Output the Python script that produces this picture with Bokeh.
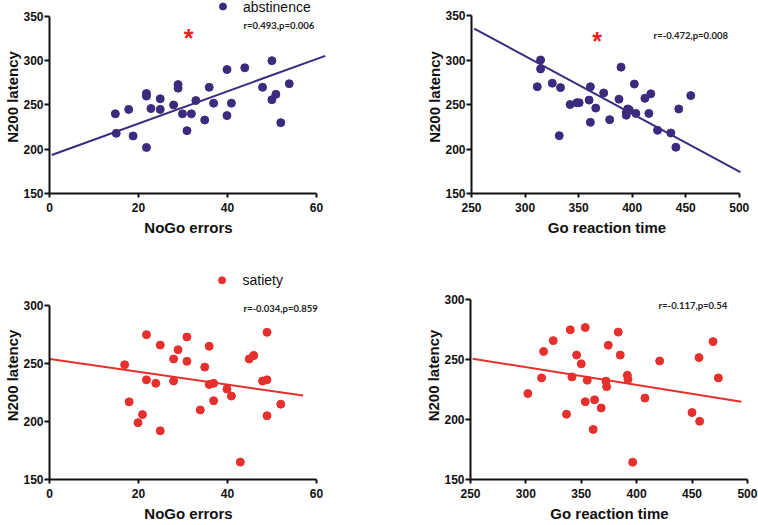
from bokeh.plotting import figure
from bokeh.layouts import column, row
from bokeh.models import FixedTicker, Range1d
from bokeh.core.properties import value
from bokeh.embed import file_html
from bokeh.resources import INLINE

# ---------------- data ----------------
# abstinence: NoGo errors vs N200 latency
abst_nogo_errors = [14.8, 15, 17.8, 18.8, 21.8, 21.8, 21.8, 22.8, 24.9, 24.9, 27.9, 28.9, 28.9,
                    29.9, 30.9, 31.9, 32.9, 34.9, 35.9, 36.9, 39.9, 39.9, 40.9, 43.9, 47.9,
                    50.0, 50.0, 50.9, 52.0, 53.9]
abst_n200_a = [240, 218, 245, 215, 263, 260, 202, 246, 257, 245, 250, 273, 269,
               240, 221, 240, 255, 233, 270, 252, 290, 238, 252, 292, 270,
               300, 256, 262, 230, 274]
abst_fit_a_x = [0.5, 62]
abst_fit_a_y = [193.5, 305.5]

# abstinence: Go reaction time vs N200 latency
abst_go_rt = [311.4, 314.5, 314.5, 325.4, 333.1, 331.9, 342.1, 348.3, 350.5, 359.8, 361.0,
              361.0, 366.0, 373.4, 379.0, 387.7, 389.6, 394.5, 395.8, 394.5, 397.3, 403.5,
              402.0, 411.9, 415.6, 417.4, 423.7, 436.1, 440.8, 443.5, 454.7]
abst_n200_b = [270, 300, 290, 274, 269, 215, 250, 252, 252, 255, 270,
               230, 246, 263, 233, 256, 292, 241, 245, 238, 244, 240,
               273, 257, 240, 262, 221, 218, 202, 245, 260]
abst_fit_b_x = [252.5, 501]
abst_fit_b_y = [335.4, 174]

# satiety: NoGo errors vs N200 latency
sat_nogo_errors = [16.9, 17.9, 19.9, 20.9, 21.8, 21.8, 23.9, 24.9, 24.9, 27.9, 27.9, 28.9,
                   30.9, 30.9, 33.9, 34.9, 35.9, 35.9, 36.9, 36.9, 39.9, 40.9, 42.9, 44.9,
                   45.9, 47.9, 48.9, 48.9, 48.9, 52.0]
sat_n200_a = [249, 217, 199, 206, 275, 236, 233, 266, 192, 254, 235, 262,
              273, 252, 210, 247, 265, 232, 233, 218, 228, 222, 165, 254,
              257, 235, 236, 277, 205, 215]
sat_fit_a_x = [0.1, 57]
sat_fit_a_y = [254, 222.5]

# satiety: Go reaction time vs N200 latency
sat_go_rt = [301.8, 314.2, 316.0, 324.7, 336.7, 340.1, 341.6, 345.8, 350.0, 353.6, 353.6,
             355.4, 360.8, 362.0, 368.0, 372.3, 372.9, 374.4, 383.4, 385.2, 391.6, 392.2,
             396.4, 407.5, 420.8, 450.0, 456.3, 456.9, 469.0, 473.8]
sat_n200_b = [221.5, 234.5, 256.5, 265.5, 204.3, 274.5, 235.3, 253.5, 246.2, 276.4, 214.7,
              232.6, 191.6, 216.3, 209.5, 231.8, 227.2, 261.7, 272.6, 253.5, 236.7, 233.2,
              164.4, 217.7, 248.6, 205.7, 251.4, 198.4, 264.7, 234.5]
sat_fit_b_x = [252, 494.6]
sat_fit_b_y = [250.5, 214.7]

nogo_ticks = [0, 20, 40, 60]
go_ticks = [250, 300, 350, 400, 450, 500]
lat_ticks_top = [150, 200, 250, 300, 350]
lat_ticks_bottom = [150, 200, 250, 300]

stats = ["r=0.493,p=0.006", "r=-0.472,p=0.008", "r=-0.034,p=0.859", "r=-0.117,p=0.54"]
groups = ["abstinence", "satiety"]

PURPLE = "#3c2a7f"
RED = "#e5302e"
STAR = "#f0201c"
AX_FONT = "Liberation Sans"


def make(width, height, xr, yr, xb, yb, xticks, yticks, borders, xlabel):
    left, right, top, bottom = borders
    p = figure(width=width, height=height,
               x_range=Range1d(*xr), y_range=Range1d(*yr),
               output_backend="svg", toolbar_location=None,
               min_border_left=left, min_border_right=right,
               min_border_top=top, min_border_bottom=bottom)
    p.grid.visible = False
    p.outline_line_color = None
    p.background_fill_color = "white"
    p.border_fill_color = "white"
    for ax, b, t in ((p.xaxis[0], xb, xticks), (p.yaxis[0], yb, yticks)):
        ax.bounds = b
        ax.ticker = FixedTicker(ticks=t)
        ax.minor_tick_line_color = None
        ax.axis_line_width = 2
        ax.axis_line_color = "#111111"
        ax.major_tick_line_width = 2
        ax.major_tick_line_color = "#111111"
        ax.major_tick_in = 0
        ax.major_label_text_font = AX_FONT
        ax.major_label_text_font_style = "bold"
        ax.major_label_text_font_size = "12px"
        ax.major_label_text_color = "#111111"
        ax.axis_label_text_font = AX_FONT
        ax.axis_label_text_font_style = "bold"
        ax.axis_label_text_font_size = "15px"
        ax.axis_label_text_line_height = 1.0
        ax.axis_label_text_color = "#111111"
    p.xaxis.major_tick_out = 4
    p.xaxis.major_label_standoff = 5
    p.xaxis.axis_label_standoff = 4
    p.yaxis.major_tick_out = 5
    p.yaxis.major_label_standoff = 1
    p.yaxis.axis_label_standoff = -1
    p.xaxis.axis_label = xlabel
    p.yaxis.axis_label = "N200 latency"
    return p


def stat_text(p, x, y, s):
    p.text(x=[x], y=[y], text=[s], text_font=value("Lato"), text_font_style="bold",
           text_font_size="9.5px", text_baseline="middle", text_align="left",
           text_color="#222222")


def star(p, x, y):
    p.text(x=[x], y=[y], text=["*"], text_font=value(AX_FONT), text_font_style="bold",
           text_font_size="25px", text_baseline="middle", text_align="center",
           text_color=STAR)


def legend_item(p, x, y, dx, label, color):
    p.scatter(x=[x], y=[y], size=7, color=color)
    p.text(x=[x + dx], y=[y], text=[label], text_font=value(AX_FONT),
           text_font_size="14px", text_baseline="middle", text_align="left",
           text_color="#111111")


# top-left
p1 = make(376, 266, (0, 62.5), (150, 368), (0, 60), (150, 350), nogo_ticks,
          lat_ticks_top, (49, 49, 0, 72), "NoGo errors")
p1.line(abst_fit_a_x, abst_fit_a_y, line_color=PURPLE, line_width=2)
p1.scatter(abst_nogo_errors, abst_n200_a, size=8, color=PURPLE)
legend_item(p1, 39.0, 361.2, 4.5, groups[0], PURPLE)
stat_text(p1, 43.6, 340, stats[0])
star(p1, 31.3, 326)

# top-right
p2 = make(382, 266, (250, 503), (150, 366.9), (250, 500), (150, 350), go_ticks,
          lat_ticks_top, (95, 16, 0, 73), "Go reaction time")
p2.line(abst_fit_b_x, abst_fit_b_y, line_color=PURPLE, line_width=2)
p2.scatter(abst_go_rt, abst_n200_b, size=8, color=PURPLE)
stat_text(p2, 420, 327.5, stats[1])
star(p2, 367.3, 321)

# bottom-left
p3 = make(376, 258, (0, 62.5), (150, 329.5), (0, 60), (150, 300), nogo_ticks,
          lat_ticks_bottom, (49, 49, 5, 40), "NoGo errors")
p3.line(sat_fit_a_x, sat_fit_a_y, line_color=RED, line_width=2)
p3.scatter(sat_nogo_errors, sat_n200_a, size=8, color=RED)
legend_item(p3, 38.8, 321.9, 4.6, groups[1], RED)
stat_text(p3, 43.6, 298, stats[2])

# bottom-right
p4 = make(382, 258, (250, 501), (150, 323), (250, 500), (150, 300), go_ticks,
          lat_ticks_bottom, (94, 10, 5, 41), "Go reaction time")
p4.line(sat_fit_b_x, sat_fit_b_y, line_color=RED, line_width=2)
p4.scatter(sat_go_rt, sat_n200_b, size=8, color=RED)
stat_text(p4, 419.8, 295, stats[3])

layout = column(row(p1, p2), row(p3, p4))

open("out.html", "w").write(file_html(layout, INLINE))
